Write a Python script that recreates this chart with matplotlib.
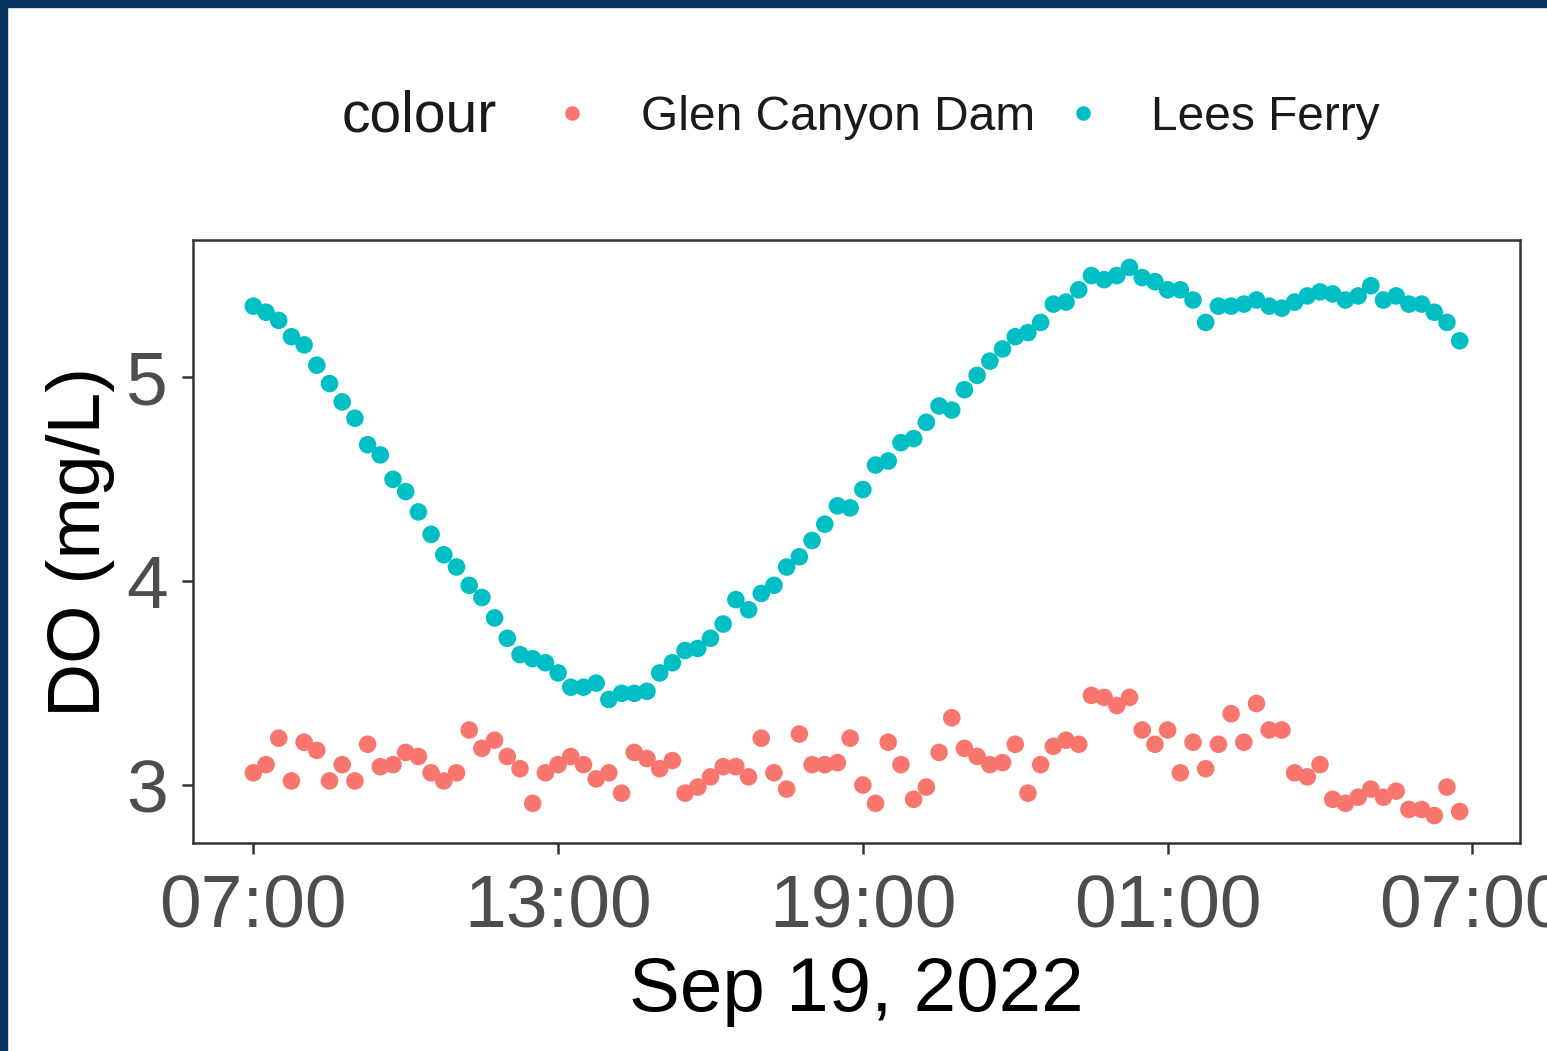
import pandas as pd
import matplotlib
matplotlib.use("Agg")
import matplotlib.pyplot as plt
import matplotlib.dates as mdates
from matplotlib.lines import Line2D
from matplotlib.patches import Rectangle

plt.rcParams['font.family'] = ['Liberation Sans', 'DejaVu Sans']

# 15 minute readings, Sep 19 07:00 -> Sep 20 06:45
times = pd.date_range("2022-09-19 07:00", periods=96, freq="15min")

glen_canyon = [
    3.06, 3.10, 3.23, 3.02, 3.21, 3.17, 3.02, 3.10, 3.02, 3.20,
    3.09, 3.10, 3.16, 3.14, 3.06, 3.02, 3.06, 3.27, 3.18, 3.22,
    3.14, 3.08, 2.91, 3.06, 3.10, 3.14, 3.10, 3.03, 3.06, 2.96,
    3.16, 3.13, 3.08, 3.12, 2.96, 2.99, 3.04, 3.09, 3.09, 3.04,
    3.23, 3.06, 2.98, 3.25, 3.10, 3.10, 3.11, 3.23, 3.00, 2.91,
    3.21, 3.10, 2.93, 2.99, 3.16, 3.33, 3.18, 3.14, 3.10, 3.11,
    3.20, 2.96, 3.10, 3.19, 3.22, 3.20, 3.44, 3.43, 3.39, 3.43,
    3.27, 3.20, 3.27, 3.06, 3.21, 3.08, 3.20, 3.35, 3.21, 3.40,
    3.27, 3.27, 3.06, 3.04, 3.10, 2.93, 2.91, 2.94, 2.98, 2.94,
    2.97, 2.88, 2.88, 2.85, 2.99, 2.87,
]

lees_ferry = [
    5.35, 5.32, 5.28, 5.20, 5.16, 5.06, 4.97, 4.88, 4.80, 4.67,
    4.62, 4.50, 4.44, 4.34, 4.23, 4.13, 4.07, 3.98, 3.92, 3.82,
    3.72, 3.64, 3.62, 3.60, 3.55, 3.48, 3.48, 3.50, 3.42, 3.45,
    3.45, 3.46, 3.55, 3.60, 3.66, 3.67, 3.72, 3.79, 3.91, 3.86,
    3.94, 3.98, 4.07, 4.12, 4.20, 4.28, 4.37, 4.36, 4.45, 4.57,
    4.59, 4.68, 4.70, 4.78, 4.86, 4.84, 4.94, 5.01, 5.08, 5.14,
    5.20, 5.22, 5.27, 5.36, 5.37, 5.43, 5.50, 5.48, 5.50, 5.54,
    5.49, 5.47, 5.43, 5.43, 5.38, 5.27, 5.35, 5.35, 5.36, 5.38,
    5.35, 5.34, 5.37, 5.40, 5.42, 5.41, 5.38, 5.40, 5.45, 5.38,
    5.40, 5.36, 5.36, 5.32, 5.27, 5.18,
]

series_names = ["Glen Canyon Dam", "Lees Ferry"]
series_colors = ["#F8766D", "#00BFC4"]

fig = plt.figure(figsize=(15.47, 10.51), dpi=100)
fig.patch.set_facecolor("white")
# navy frame on top and left edges of the screenshot
fig.patches.append(Rectangle((0, 1 - 7 / 1051), 1, 7 / 1051, transform=fig.transFigure,
                             color="#06325c", zorder=10))
fig.patches.append(Rectangle((0, 0), 7 / 1547, 1, transform=fig.transFigure,
                             color="#06325c", zorder=10))

ax = fig.add_axes([193 / 1547, 208 / 1051, 1327 / 1547, 603 / 1051])

for vals, name, col in zip([glen_canyon, lees_ferry], series_names, series_colors):
    ax.scatter(times, vals, s=160, color=col, edgecolors="none", label=name)

# ggplot-ish 5% expansion
span = times[-1] - times[0]
ax.set_xlim(times[0] - span * 0.05, times[-1] + span * 0.05)
lo = min(glen_canyon + lees_ferry)
hi = max(glen_canyon + lees_ferry)
ax.set_ylim(lo - (hi - lo) * 0.05, hi + (hi - lo) * 0.05)

ax.xaxis.set_major_locator(mdates.HourLocator(byhour=[1, 7, 13, 19]))
ax.xaxis.set_major_formatter(mdates.DateFormatter("%H:%M"))
ax.set_yticks([3, 4, 5])

for sp in ax.spines.values():
    sp.set_color("#333333")
    sp.set_linewidth(1.8)
ax.tick_params(axis="both", length=8, width=1.8, color="#333333",
               labelcolor="#4D4D4D", labelsize=54)
ax.tick_params(axis="x", pad=14)
ax.tick_params(axis="y", pad=10)

ax.set_xlabel("Sep 19, 2022", fontsize=55, color="black", labelpad=10)
ax.set_ylabel("DO (mg/L)", fontsize=54, color="black", labelpad=8)

# legend row at the top
fig.text(342 / 1547, 1 - 117 / 1051, "colour", fontsize=41, color="#1a1a1a",
         ha="left", va="center")
handles = [Line2D([], [], ls="none", marker="o", markersize=10.5, color=c,
                  markeredgewidth=0) for c in series_colors]
fig.legend(handles, series_names, loc="center left", ncol=2, frameon=False,
           bbox_to_anchor=(505 / 1547, 1 - 117 / 1051), fontsize=34.5,
           handlelength=1.0, handletextpad=0.93, columnspacing=0.5,
           labelcolor="#1a1a1a")

fig.savefig("out.png", dpi=100, facecolor="white")
